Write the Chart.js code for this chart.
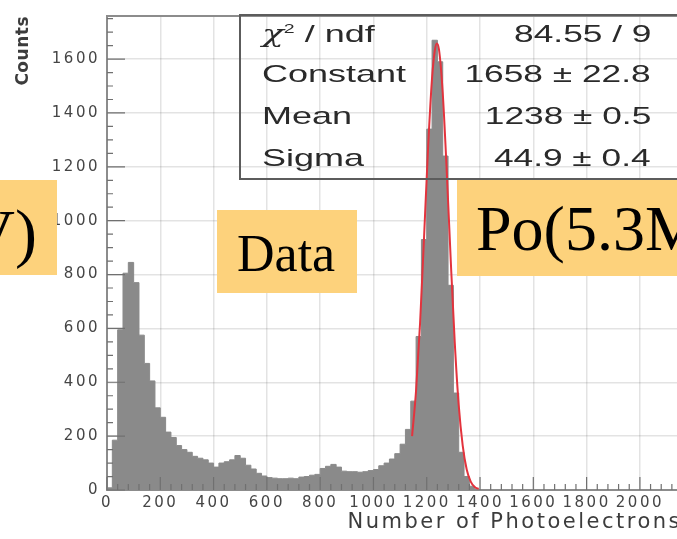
<!DOCTYPE html>
<html>
<head>
<meta charset="utf-8">
<title>Photoelectron spectrum</title>
<script src="https://cdn.jsdelivr.net/npm/chart.js@4.4.0/dist/chart.umd.min.js"></script>
<style>
  html, body { margin: 0; padding: 0; background: #fff; overflow: hidden; }
  #wrap { position: relative; width: 677px; height: 539px; overflow: hidden; }
  #spectrum { position: absolute; left: 0; top: 0; }

  /* fit result box */
  .stats { position: absolute; left: 239px; top: 14px; width: 470px; height: 166px;
           border: 2px solid #5c5c5c; box-sizing: border-box; }
  .stats .cell { position: absolute; height: 30px; line-height: 30px; white-space: nowrap;
                 font-family: "Liberation Sans", Arial, sans-serif; font-size: 24px; color: #2a2a2a; }
  .stats .key { left: 21px; transform: scaleX(1.5); transform-origin: left center; }
  .stats .val { right: 56px; transform: scaleX(1.47); transform-origin: right center; }
  .stats .chi { font-family: "DejaVu Serif", serif; font-style: italic; font-size: 24px; }
  .stats sup { font-size: 13px; vertical-align: 9px; line-height: 0; }

  /* yellow tags */
  .tag { position: absolute; background: #fdd27c; overflow: hidden;
         font-family: "Liberation Serif", "Times New Roman", serif; color: #000; }
  .tag span { position: absolute; line-height: 1; white-space: nowrap; }
</style>
</head>
<body>
<div id="wrap">
  <canvas id="spectrum" width="682" height="539"></canvas>

  <div class="stats">
    <div class="cell key" style="top:3px"><span class="chi">&chi;</span><sup>2</sup> / ndf</div>
    <div class="cell val" style="top:3px">84.55 / 9</div>
    <div class="cell key" style="top:43px">Constant</div>
    <div class="cell val" style="top:43px">1658 &plusmn; 22.8</div>
    <div class="cell key" style="top:85px">Mean</div>
    <div class="cell val" style="top:85px">1238 &plusmn; 0.5</div>
    <div class="cell key" style="top:127px">Sigma</div>
    <div class="cell val" style="top:127px">44.9 &plusmn; 0.4</div>
  </div>

  <div class="tag" style="left:-60px; top:180px; width:117px; height:95px;">
    <span style="right:20px; top:20px; font-size:66px;">V)</span>
  </div>
  <div class="tag" style="left:217px; top:210px; width:140px; height:83px;">
    <span style="left:20px; top:18px; font-size:52px;">Data</span>
  </div>
  <div class="tag" style="left:457px; top:180px; width:260px; height:96px;">
    <span style="left:19px; top:17px; font-size:64px;">Po(5.3MeV)</span>
  </div>
</div>

<script>
// histogram: lower bin edges (20 p.e. wide) and counts per bin
const binStarts = [
  0, 20, 40, 60, 80, 100, 120, 140, 160, 180,
  200, 220, 240, 260, 280, 300, 320, 340, 360, 380,
  400, 420, 440, 460, 480, 500, 520, 540, 560, 580,
  600, 620, 640, 660, 680, 700, 720, 740, 760, 780,
  800, 820, 840, 860, 880, 900, 920, 940, 960, 980,
  1000, 1020, 1040, 1060, 1080, 1100, 1120, 1140, 1160, 1180,
  1200, 1220, 1240, 1260, 1280, 1300, 1320, 1340, 1360, 1380
];
const counts = [
  8, 185, 595, 805, 845, 770, 575, 470, 405, 305,
  270, 215, 195, 165, 150, 140, 125, 118, 112, 100,
  85, 100, 105, 112, 128, 118, 92, 78, 62, 52,
  46, 44, 42, 42, 44, 42, 48, 50, 55, 58,
  80, 88, 95, 85, 70, 68, 68, 66, 68, 72,
  76, 90, 100, 115, 135, 170, 225, 330, 570, 930,
  1340, 1670, 1590, 1240, 760, 360, 140, 50, 14, 0
];

// gaussian fit curve
const fitX = [1145, 1160, 1175, 1190, 1205, 1220, 1230, 1238, 1246, 1260,
              1275, 1290, 1305, 1320, 1335, 1350, 1365, 1380, 1395];
const fitY = [200, 370, 620, 940, 1270, 1530, 1630, 1658, 1635, 1475,
              1185, 855, 550, 315, 165, 76, 31, 11, 4];

// axis tick labels
const xTicks = [0, 200, 400, 600, 800, 1000, 1200, 1400, 1600, 1800, 2000];
const yTicks = [0, 200, 400, 600, 800, 1000, 1200, 1400, 1600];

const histPoints = binStarts.map((x, i) => ({ x: x, y: counts[i] }));
const fitPoints = fitX.map((x, i) => ({ x: x, y: fitY[i] }));

// ROOT style text is wide: spread the tick labels, keep the y title tighter
const wideText = {
  id: 'wideText',
  beforeDraw(chart) {
    chart.ctx.letterSpacing = '2.5px';
  },
  afterLayout(chart) {
    const yScale = chart.scales.y;
    if (yScale._titleWrapped) return;
    const drawTitle = yScale.drawTitle;
    yScale.drawTitle = function () {
      const ctx = this.ctx;
      ctx.letterSpacing = '0.5px';
      drawTitle.call(this);
      ctx.letterSpacing = '2.5px';
    };
    yScale._titleWrapped = true;
  }
};

// inward tick marks and the top frame line
const frameTicks = {
  id: 'frameTicks',
  afterDatasetsDraw(chart) {
    const { ctx, chartArea: a, scales: { x, y } } = chart;
    ctx.save();
    ctx.strokeStyle = '#707070';
    ctx.lineWidth = 1.2;
    ctx.beginPath();
    for (let v = 0; v <= x.max; v += 40) {
      const px = x.getPixelForValue(v);
      const len = v % 200 === 0 ? 13 : 6;
      ctx.moveTo(px, a.bottom);
      ctx.lineTo(px, a.bottom - len);
    }
    for (let v = 0; v <= y.max; v += 50) {
      const py = y.getPixelForValue(v);
      const len = v % 200 === 0 ? 18 : 6;
      ctx.moveTo(a.left, py);
      ctx.lineTo(a.left + len, py);
    }
    ctx.stroke();

    ctx.strokeStyle = '#8c8c8c';
    ctx.lineWidth = 2;
    ctx.beginPath();
    ctx.moveTo(a.left, a.top);
    ctx.lineTo(a.right, a.top);
    ctx.stroke();
    ctx.restore();
  }
};

const tickFont = { family: 'DejaVu Sans', size: 15 };

new Chart(document.getElementById('spectrum').getContext('2d'), {
  type: 'line',
  data: {
    datasets: [
      {
        label: 'Gaus fit',
        data: fitPoints,
        borderColor: '#e3333d',
        borderWidth: 2,
        pointRadius: 0,
        cubicInterpolationMode: 'monotone',
        fill: false,
        order: 0
      },
      {
        label: 'Data',
        data: histPoints,
        stepped: true,
        borderColor: '#8a8a8a',
        borderWidth: 1,
        backgroundColor: '#8a8a8a',
        fill: 'origin',
        pointRadius: 0,
        order: 1
      }
    ]
  },
  options: {
    responsive: false,
    animation: false,
    layout: { padding: { top: 15, left: 0, right: 0, bottom: 0 } },
    plugins: {
      legend: { display: false },
      tooltip: { enabled: false }
    },
    scales: {
      x: {
        type: 'linear',
        min: 0,
        max: 2158,
        afterBuildTicks: scale => { scale.ticks = xTicks.map(v => ({ value: v })); },
        afterFit: scale => { scale.height = 49; },
        ticks: {
          autoSkip: false,
          maxRotation: 0,
          padding: 4,
          color: '#454545',
          font: tickFont,
          callback: v => String(v)
        },
        grid: { color: 'rgba(0,0,0,0.11)', lineWidth: 1.5, drawTicks: false },
        border: { color: '#8c8c8c', width: 2 },
        title: {
          display: true,
          text: 'Number of Photoelectrons',
          align: 'end',
          color: '#3c3c3c',
          font: { family: 'DejaVu Sans', size: 21 },
          padding: { top: 0, bottom: 4 }
        }
      },
      y: {
        min: 0,
        max: 1760,
        afterBuildTicks: scale => { scale.ticks = yTicks.map(v => ({ value: v })); },
        afterFit: scale => { scale.width = 107; },
        ticks: {
          padding: 7,
          color: '#454545',
          font: tickFont,
          callback: v => String(v)
        },
        grid: { color: 'rgba(0,0,0,0.11)', lineWidth: 1.5, drawTicks: false },
        border: { color: '#8c8c8c', width: 2 },
        title: {
          display: true,
          text: 'Counts',
          align: 'end',
          color: '#3c3c3c',
          font: { family: 'DejaVu Sans', size: 17, weight: 'bold' },
          padding: { top: 13, bottom: 0 }
        }
      }
    }
  },
  plugins: [wideText, frameTicks]
});
</script>
</body>
</html>
